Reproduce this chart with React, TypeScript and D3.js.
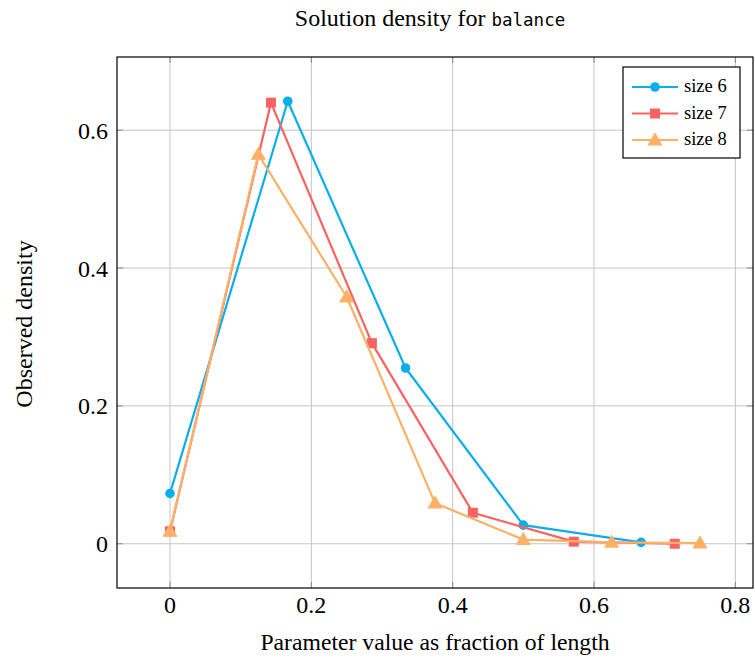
import { useEffect, useRef } from 'react';
import * as d3 from 'd3';

// series values
const size6X = [0, 1 / 6, 2 / 6, 3 / 6, 4 / 6];
const size6Y = [0.073, 0.642, 0.255, 0.027, 0.002];
const size7X = [0, 1 / 7, 2 / 7, 3 / 7, 4 / 7, 5 / 7];
const size7Y = [0.018, 0.640, 0.291, 0.045, 0.003, 0.0];
const size8X = [0, 1 / 8, 2 / 8, 3 / 8, 4 / 8, 5 / 8, 6 / 8];
const size8Y = [0.018, 0.565, 0.358, 0.059, 0.006, 0.002, 0.001];

const xTicks = [0, 0.2, 0.4, 0.6, 0.8];
const yTicks = [0, 0.2, 0.4, 0.6];

const series = [
  { name: 'size 6', xs: size6X, ys: size6Y, color: '#0AAEEA', marker: 'circle' },
  { name: 'size 7', xs: size7X, ys: size7Y, color: '#FA6262', marker: 'square' },
  { name: 'size 8', xs: size8X, ys: size8Y, color: '#FDB066', marker: 'triangle' },
];

const W = 755;
const H = 658;
const serif = '"Liberation Serif", "Times New Roman", serif';

export default function App() {
  const svgRef = useRef<SVGSVGElement>(null);

  useEffect(() => {
    const svg = d3.select(svgRef.current);
    svg.selectAll('*').remove();

    const left = 117, right = 753, top = 57, bottom = 588;
    const x = d3.scaleLinear().domain([-0.075, 0.825]).range([left, right]);
    const y = d3.scaleLinear().domain([-0.0642, 0.7062]).range([bottom, top]);

    // grid
    const grid = svg.append('g');
    xTicks.forEach(t => {
      grid.append('line')
        .attr('x1', x(t)).attr('x2', x(t)).attr('y1', top).attr('y2', bottom)
        .attr('stroke', '#c4c4c4').attr('stroke-width', 1);
    });
    yTicks.forEach(t => {
      grid.append('line')
        .attr('x1', left).attr('x2', right).attr('y1', y(t)).attr('y2', y(t))
        .attr('stroke', '#c4c4c4').attr('stroke-width', 1);
    });

    // tick marks (inside, on all sides)
    const tl = 6;
    const ticks = svg.append('g').attr('stroke', '#888').attr('stroke-width', 1);
    xTicks.forEach(t => {
      ticks.append('line').attr('x1', x(t)).attr('x2', x(t)).attr('y1', bottom).attr('y2', bottom - tl);
      ticks.append('line').attr('x1', x(t)).attr('x2', x(t)).attr('y1', top).attr('y2', top + tl);
    });
    yTicks.forEach(t => {
      ticks.append('line').attr('x1', left).attr('x2', left + tl).attr('y1', y(t)).attr('y2', y(t));
      ticks.append('line').attr('x1', right).attr('x2', right - tl).attr('y1', y(t)).attr('y2', y(t));
    });

    const fmt = (v: number) => (v === 0 ? '0' : d3.format('.1f')(v));

    // tick labels
    svg.append('g').selectAll('text').data(xTicks).join('text')
      .attr('x', d => x(d)).attr('y', 613)
      .attr('text-anchor', 'middle')
      .attr('font-family', serif).attr('font-size', 24)
      .text(fmt);
    svg.append('g').selectAll('text').data(yTicks).join('text')
      .attr('x', 108).attr('y', d => y(d) + 8.5)
      .attr('text-anchor', 'end')
      .attr('font-family', serif).attr('font-size', 24)
      .text(fmt);

    // series
    const markerPath = (m: string) => {
      if (m === 'circle') return d3.symbol(d3.symbolCircle, 72)();
      if (m === 'square') return d3.symbol(d3.symbolSquare, 100)();
      return d3.symbol(d3.symbolTriangle, 100)();
    };
    const line = d3.line<[number, number]>().x(d => x(d[0])).y(d => y(d[1]));

    series.forEach(s => {
      const pts: [number, number][] = s.xs.map((v, i) => [v, s.ys[i]]);
      const g = svg.append('g');
      g.append('path').attr('d', line(pts)).attr('fill', 'none')
        .attr('stroke', s.color).attr('stroke-width', 2.2).attr('stroke-linejoin', 'round');
      g.selectAll('path.m').data(pts).join('path').attr('class', 'm')
        .attr('d', markerPath(s.marker))
        .attr('transform', d => `translate(${x(d[0])},${y(d[1]) + (s.marker === 'triangle' ? 1 : 0)})`)
        .attr('fill', s.color);
    });

    // frame
    svg.append('rect').attr('x', left).attr('y', top)
      .attr('width', right - left).attr('height', bottom - top)
      .attr('fill', 'none').attr('stroke', '#000').attr('stroke-width', 1.2);

    // legend
    const lg = svg.append('g');
    lg.append('rect').attr('x', 623).attr('y', 67).attr('width', 117).attr('height', 91)
      .attr('fill', '#fff').attr('stroke', '#000').attr('stroke-width', 1.2);
    series.forEach((s, i) => {
      const cy = 87 + i * 26.5;
      lg.append('line').attr('x1', 632).attr('x2', 678).attr('y1', cy).attr('y2', cy)
        .attr('stroke', s.color).attr('stroke-width', 2.2);
      lg.append('path').attr('d', markerPath(s.marker))
        .attr('transform', `translate(655,${cy + (s.marker === 'triangle' ? 1 : 0)})`)
        .attr('fill', s.color);
      lg.append('text').attr('x', 684).attr('y', cy + 5)
        .attr('font-family', serif).attr('font-size', 18.5)
        .text(s.name);
    });

    // title
    const title = svg.append('text').attr('x', 430).attr('y', 26)
      .attr('text-anchor', 'middle').attr('font-family', serif).attr('font-size', 24);
    title.append('tspan').text('Solution density for ');
    title.append('tspan').attr('font-family', '"DejaVu Sans Mono", monospace').attr('font-size', 17.5).text('balance');

    // axis labels
    svg.append('text').attr('x', 435).attr('y', 650)
      .attr('text-anchor', 'middle').attr('font-family', serif).attr('font-size', 23.7)
      .text('Parameter value as fraction of length');
    svg.append('text')
      .attr('transform', `translate(32,324) rotate(-90)`)
      .attr('text-anchor', 'middle').attr('font-family', serif).attr('font-size', 24)
      .text('Observed density');
  }, []);

  return (
    <svg ref={svgRef} width={W} height={H}
      style={{ position: 'absolute', left: 0, top: 0, background: '#fff' }} />
  );
}
